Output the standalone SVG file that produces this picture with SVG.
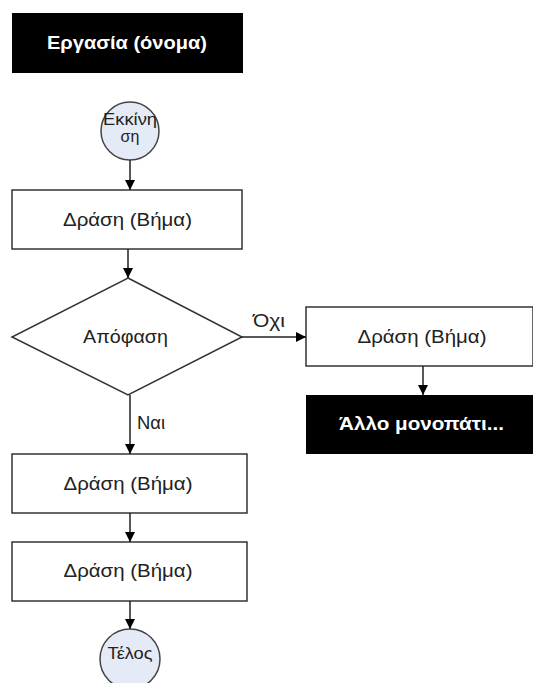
<svg xmlns="http://www.w3.org/2000/svg" width="533" height="683" viewBox="0 0 533 683">
<defs>
<marker id="ah" viewBox="0 0 10 10" refX="10" refY="5" markerWidth="10" markerHeight="10" markerUnits="userSpaceOnUse" orient="auto">
<path d="M0,0 L10,5 L0,10 z" fill="#000"/>
</marker>
</defs>
<style>
.box{fill:#fff;stroke:#333;stroke-width:1.5}
.blk{fill:#000}
.circ{fill:#e4eaf6;stroke:#444;stroke-width:1.5}
.t{font-family:"Liberation Sans",Arial,sans-serif;font-size:19px;fill:#222;text-anchor:middle}
.ts{font-family:"Liberation Sans",Arial,sans-serif;font-size:16px;fill:#222;text-anchor:middle}
.tw{font-family:"Liberation Sans",Arial,sans-serif;font-size:18px;font-weight:bold;fill:#fff;text-anchor:middle}
.c{stroke:#222;stroke-width:1.5;fill:none;marker-end:url(#ah)}
</style>
<g id="title"><rect class="blk" x="12" y="13" width="231" height="60"/><text class="tw" x="127" y="49" textLength="160" lengthAdjust="spacingAndGlyphs">Εργασία (όνομα)</text></g>
<g id="start"><circle class="circ" cx="130" cy="131" r="29"/><text class="ts" x="130" y="125" textLength="54" lengthAdjust="spacingAndGlyphs">Εκκίνη</text><text class="ts" x="130" y="142">ση</text></g>
<g id="step1"><rect class="box" x="12" y="190" width="230" height="59"/><text class="t" x="127.5" y="226" textLength="129" lengthAdjust="spacingAndGlyphs">Δράση (Βήμα)</text></g>
<g id="decision"><polygon class="box" points="128,278 242,337 128,395 12,337"/><text class="t" x="125.5" y="343" textLength="85" lengthAdjust="spacingAndGlyphs">Απόφαση</text></g>
<g id="stepNo"><rect class="box" x="306" y="307" width="227" height="59"/><text class="t" x="422" y="343" textLength="129" lengthAdjust="spacingAndGlyphs">Δράση (Βήμα)</text></g>
<g id="other"><rect class="blk" x="306" y="395" width="227" height="59"/><text class="tw" x="421.5" y="430" textLength="165" lengthAdjust="spacingAndGlyphs">Άλλο μονοπάτι...</text></g>
<g id="step2"><rect class="box" x="12" y="454" width="235" height="59"/><text class="t" x="128" y="490" textLength="129" lengthAdjust="spacingAndGlyphs">Δράση (Βήμα)</text></g>
<g id="step3"><rect class="box" x="12" y="542" width="235" height="59"/><text class="t" x="128" y="577" textLength="129" lengthAdjust="spacingAndGlyphs">Δράση (Βήμα)</text></g>
<g id="end"><circle class="circ" cx="130" cy="659" r="30"/><text class="ts" x="130" y="659" textLength="45" lengthAdjust="spacingAndGlyphs">Τέλος</text></g>
<g id="connectors">
<line class="c" x1="130" y1="160" x2="130" y2="190"/>
<line class="c" x1="128" y1="249" x2="128" y2="278"/>
<line class="c" x1="242" y1="337" x2="306" y2="337"/>
<text class="t" x="269" y="327" textLength="32" lengthAdjust="spacingAndGlyphs">Όχι</text>
<line class="c" x1="130" y1="395" x2="130" y2="454"/>
<text class="t" x="151" y="429" textLength="28" lengthAdjust="spacingAndGlyphs">Ναι</text>
<line class="c" x1="423" y1="366" x2="423" y2="395"/>
<line class="c" x1="130" y1="513" x2="130" y2="542"/>
<line class="c" x1="130" y1="601" x2="130" y2="629"/>
</g>
</svg>
